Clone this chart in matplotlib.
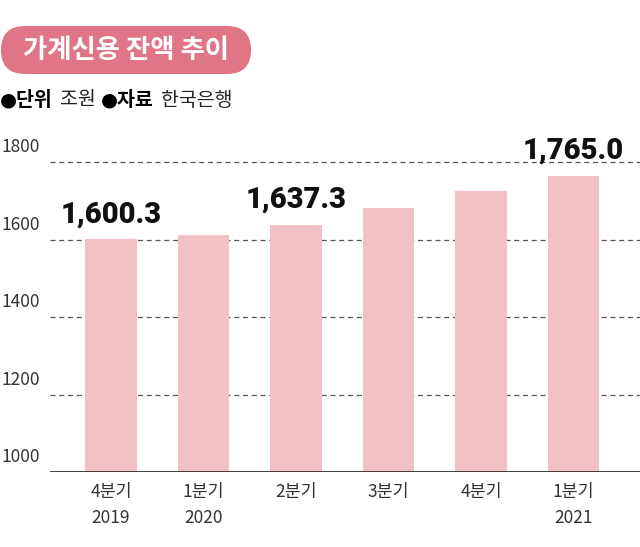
import matplotlib
matplotlib.use("Agg")
import matplotlib.pyplot as plt
from matplotlib.patches import FancyBboxPatch
from matplotlib.transforms import IdentityTransform

plt.rcParams['font.family'] = ['Noto Sans CJK KR', 'DejaVu Sans']

# data
quarters = ['4분기\n2019', '1분기\n2020', '2분기', '3분기', '4분기', '1분기\n2021']
balance = [1600.3, 1611.3, 1637.3, 1682.1, 1726.1, 1765.0]
labelled = {0: '1,600.3', 2: '1,637.3', 5: '1,765.0'}
yticks = [1000, 1200, 1400, 1600, 1800]

bar_color = '#f2c1c6'
pill_color = '#e07586'

W, H = 640, 547
fig = plt.figure(figsize=(6.4, 5.47), dpi=100)
ax = fig.add_axes([50/W, 1 - 472/H, 590/W, (472 - 110)/H])

x = range(len(quarters))
ax.bar(x, balance, width=0.56, color=bar_color, zorder=2)

ax.set_ylim(1000, 1000 + 200 * (472 - 110) / 77.5)
ax.set_xlim(-0.66, 5.72)

for yv in yticks[1:]:
    ax.axhline(yv, color='#555555', lw=0.9, ls=(0, (4, 3)), zorder=1)
ax.axhline(1000, color='#222222', lw=1.2, zorder=3)

for s in ax.spines.values():
    s.set_visible(False)
ax.set_yticks([])
ax.set_xticks(list(x))
ax.set_xticklabels(quarters, fontsize=12.5, color='#333333', linespacing=1.55,
                   fontweight='light')
ax.tick_params(axis='x', length=0, pad=8)

# y labels sit a bit above the grid lines, at the left edge of the figure
for yv in yticks:
    ax.annotate(str(yv), xy=(0, yv), xycoords=('figure fraction', 'data'),
                xytext=(1, 4), textcoords='offset points',
                fontsize=12.5, color='#333333', ha='left', va='bottom',
                fontweight='light')

for i, txt in labelled.items():
    ax.annotate(txt, xy=(i, balance[i]), xytext=(0, 8), textcoords='offset points',
                ha='center', va='bottom', fontsize=21, fontweight='black',
                family=['Roboto', 'DejaVu Sans'], color='#111111', zorder=4)

# title pill (pixel coords, origin bottom-left)
pill = FancyBboxPatch((1, H - 74), 250, 48,
                      boxstyle='round,pad=0,rounding_size=24',
                      transform=IdentityTransform(), facecolor=pill_color,
                      edgecolor='none')
fig.patches.append(pill)
fig.text(126/W, 1 - 50/H, '가계신용 잔액 추이', fontsize=19, color='white',
         ha='center', va='center', fontweight='bold')

sub_y = 1 - 100/H
head = dict(fontsize=14, fontweight='bold', va='center', ha='left', color='black',
            family=['DejaVu Sans', 'Noto Sans CJK KR'])
body = dict(fontsize=14, va='center', ha='left', color='#222222')
fig.text(0, sub_y, '●단위', **head)
fig.text(60/W, sub_y, '조원', **body)
fig.text(101/W, sub_y, '●자료', **head)
fig.text(161/W, sub_y, '한국은행', **body)

fig.savefig('out.png', dpi=100)
